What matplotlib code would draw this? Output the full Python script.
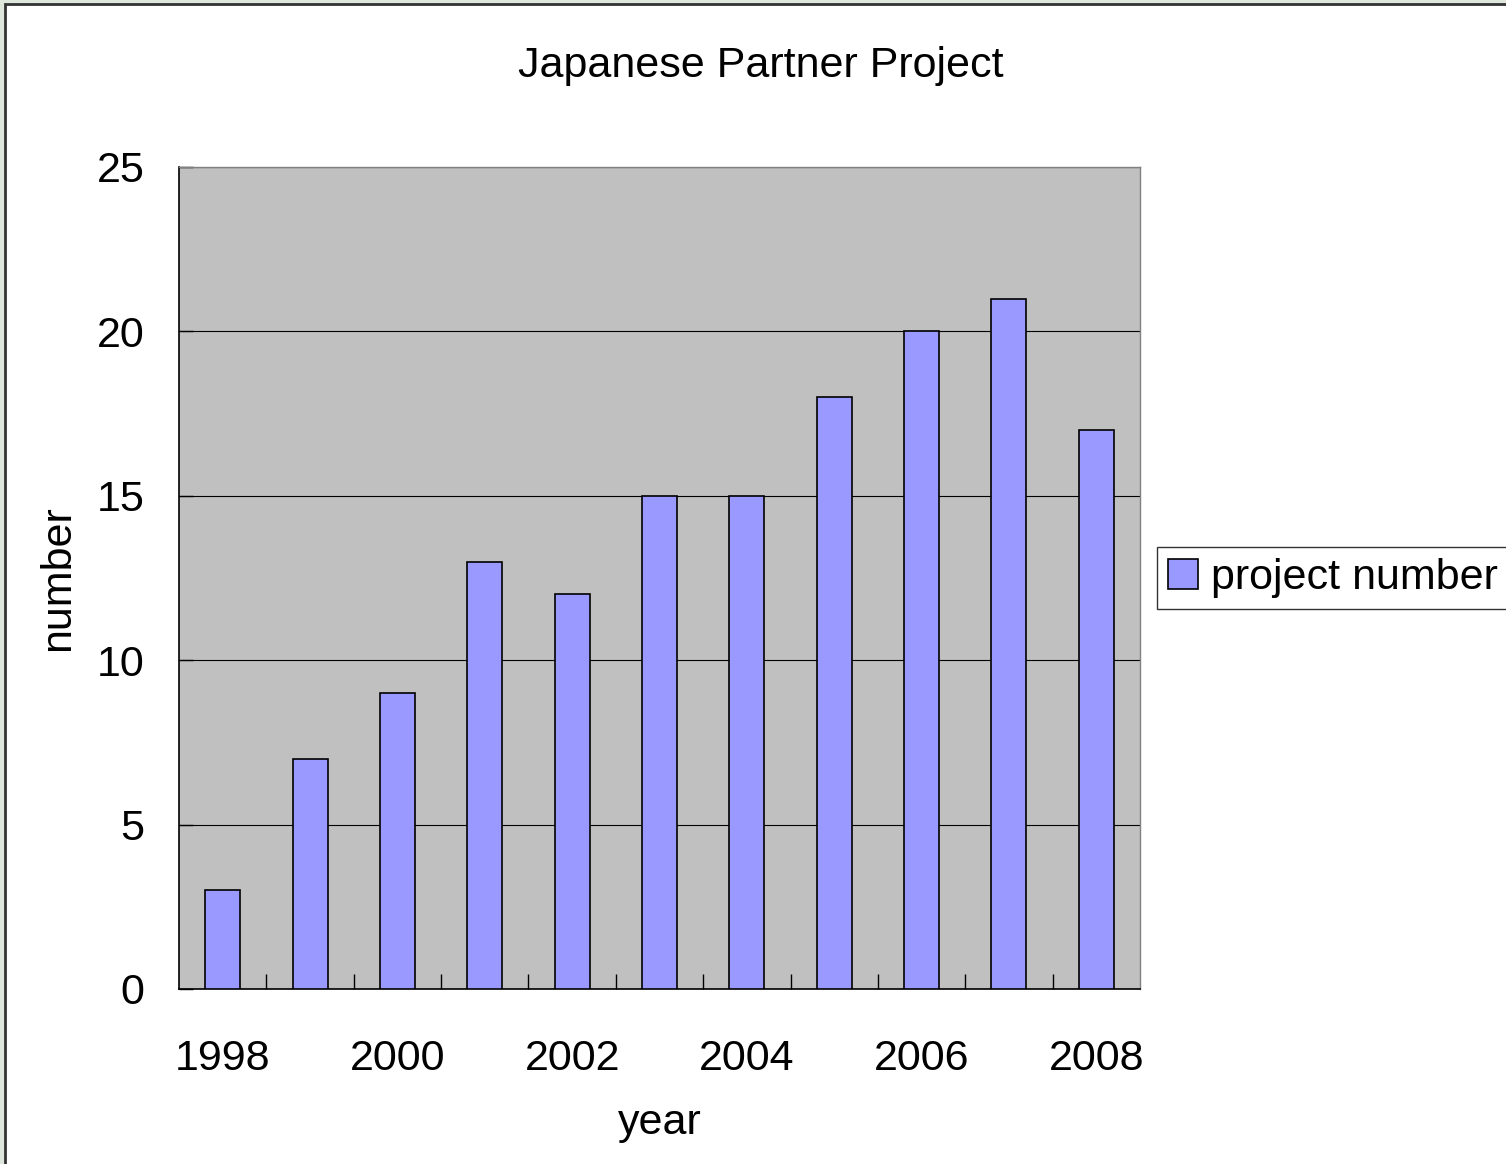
import matplotlib.pyplot as plt
from matplotlib.patches import Rectangle

plt.rcParams['font.family'] = ['Liberation Sans', 'DejaVu Sans']

# Data
years = [1998, 1999, 2000, 2001, 2002, 2003, 2004, 2005, 2006, 2007, 2008]
projects = [3, 7, 9, 13, 12, 15, 15, 18, 20, 21, 17]
y_ticks = [0, 5, 10, 15, 20, 25]

W, H = 1506, 1164
FS = 31
fig = plt.figure(figsize=(W / 100, H / 100), dpi=100)
fig.patch.set_facecolor('#dfe6dc')

# white chart area with dark frame (cut off at right / bottom like the original)
fig.patches.append(Rectangle((5 / W, -0.01), 1.02, 1 - 4 / H + 0.01, transform=fig.transFigure,
                             facecolor='white', edgecolor='#333333', linewidth=2, zorder=-5))

ax = fig.add_axes([179 / W, 1 - 989 / H, (1140 - 179) / W, (989 - 167) / H])
ax.set_facecolor('#c0c0c0')

x = list(range(len(years)))
ax.bar(x, projects, width=0.4, color='#9999ff', edgecolor='black', linewidth=1.2,
       label='project number', zorder=3)

ax.set_xlim(-0.5, len(years) - 0.5)
ax.set_ylim(0, 25)
ax.set_yticks(y_ticks)
ax.yaxis.grid(True, color='black', linewidth=0.8, zorder=1)
ax.set_axisbelow(True)

# x ticks between categories, labels every other year
ax.set_xticks([i - 0.5 for i in range(1, len(years))], minor=True)
ax.set_xticks(x[::2])
ax.set_xticklabels([str(y) for y in years[::2]])
ax.tick_params(axis='x', which='major', length=0, pad=36, labelsize=FS)
ax.tick_params(axis='x', which='minor', direction='in', length=11, width=1, color='black')
ax.tick_params(axis='y', direction='in', length=10, width=1, pad=25, labelsize=FS)

for side in ['top', 'right']:
    ax.spines[side].set_color('#808080')
    ax.spines[side].set_linewidth(1)
for side in ['left', 'bottom']:
    ax.spines[side].set_color('black')
    ax.spines[side].set_linewidth(1.2)

ax.set_xlabel('year', fontsize=FS, labelpad=17)
ax.set_ylabel('number', fontsize=FS, labelpad=13)
fig.text(761 / W, 1 - 66 / H, 'Japanese Partner Project', fontsize=FS, ha='center', va='center')

leg = fig.legend(loc='upper left', bbox_to_anchor=(1157 / W, 1 - 547 / H), fontsize=FS,
                 frameon=True, fancybox=False, edgecolor='black', handlelength=0.7,
                 handleheight=0.7, handletextpad=0.3, borderpad=0.25, borderaxespad=0)
leg.get_frame().set_linewidth(1)

fig.savefig('out.png', dpi=100)
